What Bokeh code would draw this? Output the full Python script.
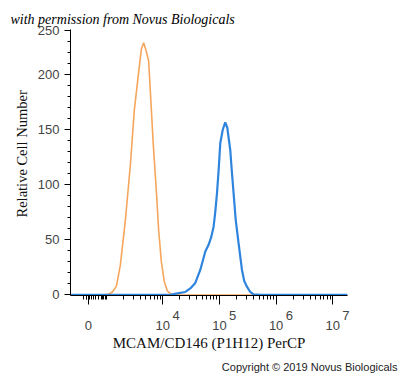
from bokeh.plotting import figure
from bokeh.models import FixedTicker, Range1d, Title, LinearAxis
from bokeh.embed import file_html
from bokeh.resources import INLINE
import numpy as np

# ---- data (x in logicle display units: 4 = 10^4, ... ; 0 sits at X_ZERO) ----
X_ZERO = 2.686
iso_x = [2.37, 2.898, 3.039, 3.109, 3.180, 3.250, 3.339, 3.427, 3.497, 3.568, 3.621,
         3.661, 3.709, 3.750, 3.788, 3.832, 3.885, 3.926, 3.974, 4.026, 4.079, 4.150,
         4.309, 7.26]
iso_y = [0, 0, 0.5, 2.7, 8, 27, 68, 118, 168, 200, 223,
         229, 221, 212, 177, 136, 95, 59, 30, 12, 3.6, 0.5,
         0, 0]

mcam_x = [2.37, 4.132, 4.256, 4.397, 4.485, 4.573, 4.661, 4.750, 4.808, 4.855, 4.896,
          4.926, 4.956, 4.988, 5.014, 5.058, 5.102, 5.138, 5.190, 5.220, 5.249,
          5.287, 5.337, 5.397, 5.437, 5.485, 5.543, 5.601, 5.720, 7.26]
mcam_y = [0, 0, 1.4, 2.7, 5.9, 10.9, 22.7, 39.4, 45.5, 52.7, 62,
          75.5, 92.5, 115.5, 138, 150, 156.6, 151.8, 131.8, 111, 92.5,
          68, 47, 22.7, 12.7, 7.5, 2.7, 0.5, 0, 0]

x_major = [X_ZERO, 4, 5, 6, 7]
x_major_labels = ["0", "10", "10", "10", "10"]
exponent_pos = [4.233, 5.233, 6.233, 7.233]
exponents = ["4", "5", "6", "7"]
y_major = [0, 50, 100, 150, 200, 240]
y_major_labels = ["0", "50", "100", "150", "200", "250"]

ORANGE = "#f6a65c"
BLUE = "#2f84de"
TICK_FONT = "Liberation Sans"
SERIF = "Liberation Serif"

p = figure(width=400, height=378, output_backend="svg", toolbar_location=None,
           x_range=Range1d(2.37, 7.26), y_range=Range1d(-0.5, 241),
           min_border_left=70, min_border_right=53, min_border_top=29,
           min_border_bottom=83)
p.outline_line_color = None
p.xgrid.visible = False
p.ygrid.visible = False

p.line(iso_x, iso_y, line_color=ORANGE, line_width=1.6)
p.line(mcam_x, mcam_y, line_color=BLUE, line_width=2.2)

# x axis ticks
x_minor = [2.598, 2.651, 2.66, 2.704, 2.739, 2.774, 2.81, 2.862, 2.92, 2.933, 2.95, 2.986, 3.0]
for k in range(3, 7):
    for m in range(2, 10):
        x_minor.append(round(k + float(np.log10(m)), 4))
p.xaxis.ticker = FixedTicker(ticks=x_major, minor_ticks=x_minor)
p.xaxis.major_label_overrides = {v: s for v, s in zip(x_major, x_major_labels)}
p.xaxis.major_tick_out = 9
p.xaxis.major_tick_in = 0
p.xaxis.minor_tick_out = 4
p.xaxis.minor_tick_in = 0
p.xaxis.major_label_standoff = 16
p.xaxis.major_label_text_font = TICK_FONT
p.xaxis.major_label_text_font_size = "13px"
p.xaxis.major_label_text_color = "#444444"

# second axis carrying the decade exponents and the axis title
exp_axis = LinearAxis(ticker=FixedTicker(ticks=exponent_pos, minor_ticks=[]),
                      major_label_overrides={v: s for v, s in zip(exponent_pos, exponents)},
                      axis_line_color=None, major_tick_line_color=None,
                      minor_tick_line_color=None, major_tick_out=0, major_tick_in=0,
                      major_label_standoff=-22,
                      major_label_text_font=TICK_FONT,
                      major_label_text_font_size="13px",
                      major_label_text_color="#444444",
                      axis_label="MCAM/CD146 (P1H12) PerCP",
                      axis_label_text_font=SERIF,
                      axis_label_text_font_style="normal",
                      axis_label_text_font_size="15px",
                      axis_label_text_color="#111111",
                      axis_label_standoff=12)
p.add_layout(exp_axis, "below")

# y axis ticks
y_minor = [v for v in range(10, 240, 10) if v not in y_major]
p.yaxis.ticker = FixedTicker(ticks=y_major, minor_ticks=y_minor)
p.yaxis.major_label_overrides = {v: s for v, s in zip(y_major, y_major_labels)}
p.yaxis.major_tick_out = 6
p.yaxis.major_tick_in = 0
p.yaxis.minor_tick_out = 3
p.yaxis.minor_tick_in = 0
p.yaxis.major_label_standoff = 5
p.yaxis.major_label_text_font = TICK_FONT
p.yaxis.major_label_text_font_size = "13px"
p.yaxis.major_label_text_color = "#444444"

for ax in (p.xaxis[0], p.yaxis[0]):
    ax.axis_line_color = "black"
    ax.major_tick_line_color = "black"
    ax.minor_tick_line_color = "black"

# y axis title
p.add_layout(Title(text="Relative Cell Number", align="left", offset=78,
                   text_font=SERIF, text_font_style="normal", text_font_size="14.5px",
                   text_color="#111111", standoff=10), "left")

# permission note
p.add_layout(Title(text="with permission from Novus Biologicals", align="left",
                   offset=-60, text_font=SERIF, text_font_style="italic",
                   text_font_size="14px", text_color="black", standoff=5), "above")

# copyright
p.add_layout(Title(text="Copyright \u00a9 2019 Novus Biologicals", align="right",
                   offset=-50, text_font=TICK_FONT, text_font_style="normal",
                   text_font_size="11px", text_color="#222222", standoff=10), "below")

open("out.html", "w").write(file_html(p, INLINE))
